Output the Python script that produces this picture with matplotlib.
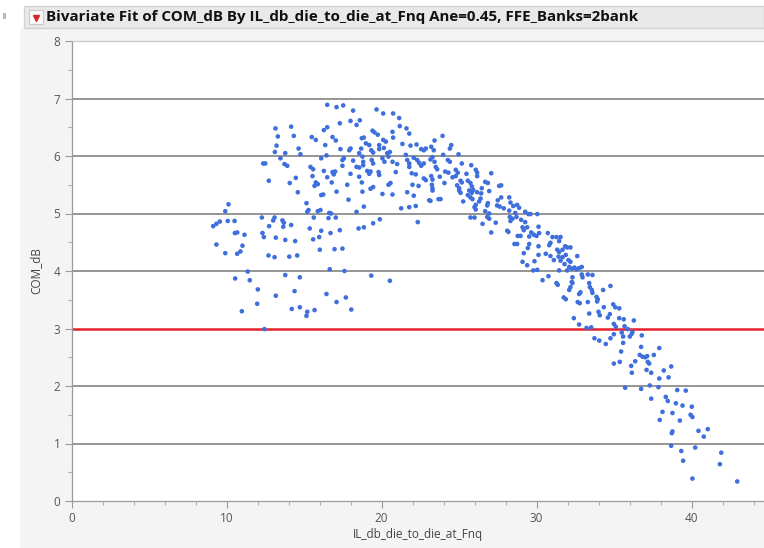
import matplotlib
matplotlib.use("Agg")
import matplotlib.pyplot as plt
from matplotlib.patches import Rectangle
from matplotlib.lines import Line2D
from matplotlib.ticker import MultipleLocator

title = "Bivariate Fit of COM_dB By IL_db_die_to_die_at_Fnq Ane=0.45, FFE_Banks=2bank"
x_label = "IL_db_die_to_die_at_Fnq"
y_label = "COM_dB"
x_ticks = [0, 10, 20, 30, 40]
y_ticks = [0, 1, 2, 3, 4, 5, 6, 7, 8]
grid_levels = [1, 2, 4, 5, 6, 7]
limit_line = 3

il_db = [
    # left cluster
    13.16, 14.17, 13.31, 14.34, 13.23, 13.12, 13.79, 14.65, 13.48, 12.37, 12.50, 13.74, 13.92,
    12.73, 14.08, 14.47, 14.60, 10.13, 9.92, 9.14, 9.35, 9.57, 10.08, 10.52, 12.28, 13.01,
    13.10, 13.61, 13.70, 14.17, 12.75, 13.66, 10.54, 10.69, 11.16, 12.32, 12.41, 13.18, 13.79,
    14.43, 9.35, 11.03, 9.92, 10.69, 10.90, 12.71, 13.10, 14.05, 14.56, 11.37, 10.56, 11.50,
    13.79, 14.73, 12.02, 14.39, 13.18, 11.98, 10.99, 14.21, 14.73, 12.45,
    # middle cluster
    16.50, 17.10, 17.53, 18.17, 19.68, 20.11, 20.75, 21.14, 18.00, 18.39, 18.60, 17.31, 16.50,
    16.28, 21.18, 21.61, 21.79, 20.71, 20.75, 19.42, 19.55, 19.76, 15.50, 15.76, 16.84, 17.05,
    18.73, 18.86, 20.11, 20.28, 16.37, 18.99, 19.21, 19.85, 20.15, 21.35, 21.87, 22.26, 22.56,
    22.73, 22.86, 17.35, 17.92, 18.00, 18.69, 18.56, 19.34, 19.46, 19.85, 20.37, 20.54, 20.45,
    14.77, 16.11, 16.45, 17.48, 17.57, 18.17, 18.77, 18.82, 19.37, 19.46, 20.06, 20.19, 20.71,
    21.57, 21.66, 21.79, 22.08, 22.30, 22.43, 22.56, 22.73, 15.42, 15.59, 16.28, 16.84, 16.92,
    17.01, 17.48, 18.00, 18.39, 18.56, 18.82, 19.08, 19.29, 19.21, 19.85, 19.81, 21.01, 20.92,
    21.79, 21.95, 22.21, 22.73, 22.86, 15.55, 16.50, 18.56, 15.76, 15.89, 15.68, 16.79, 17.79,
    18.73, 19.46, 19.29, 20.45, 20.58, 22.00, 22.39, 16.11, 16.24, 17.10, 18.77, 20.06, 20.71,
    21.66, 22.08, 23.08, 17.87, 15.16, 18.86, 21.27, 21.79, 22.21, 15.29, 15.21, 15.89, 16.06,
    16.63, 16.75, 18.39, 15.63, 16.58, 17.05, 19.89, 19.46, 22.34, 15.37, 16.11, 17.31, 16.71,
    18.52, 18.86, 15.59, 15.98, 16.02, 16.97, 17.48, 16.66, 17.61, 19.34, 20.54, 16.45, 17.10,
    17.70, 15.21, 15.68, 18.05, 15.16,
    # falling edge, upper part
    23.94, 23.42, 24.50, 24.41, 23.21, 23.37, 24.97, 23.98, 24.28, 24.41, 23.29, 23.16, 23.42,
    25.18, 25.79, 23.50, 23.59, 24.11, 24.32, 24.79, 24.92, 26.08, 26.17, 25.48, 27.08, 23.21,
    23.29, 23.76, 24.58, 24.79, 26.17, 25.10, 25.18, 25.57, 25.74, 26.69, 26.86, 24.06, 23.25,
    23.29, 24.88, 25.01, 25.83, 25.92, 27.59, 27.72, 26.47, 23.29, 25.01, 25.10, 25.66, 25.83,
    26.17, 26.43, 26.95, 23.68, 23.81, 23.16, 25.27, 25.57, 25.74, 25.87, 26.39, 26.30, 26.86,
    26.82, 27.50, 27.72, 28.24, 26.08, 26.00, 26.08, 27.46, 27.63, 27.89, 28.32, 28.50, 28.75,
    28.88, 26.69, 26.95, 28.24, 28.63, 29.27, 29.48, 29.61, 30.05, 25.74, 26.00, 26.82, 26.95,
    28.28, 28.45, 28.32, 28.71, 29.01, 29.27, 26.52, 27.37, 28.11, 28.19, 29.10, 29.18, 29.40,
    29.66, 29.83, 30.13, 30.17, 27.08, 28.79, 28.97, 29.53, 30.00, 28.58, 28.75, 29.53, 29.44,
    30.13, 29.18, 30.13, 29.10, 29.40, 29.87, 29.79, 30.05,
    # falling edge, middle part
    30.60, 30.73, 31.03, 31.29, 31.55, 30.90, 30.82, 31.46, 31.85, 31.98, 32.19, 31.34, 31.46,
    31.68, 30.90, 32.63, 31.42, 31.68, 31.89, 32.06, 32.19, 31.55, 31.12, 31.81, 31.46, 32.11,
    32.28, 32.45, 32.58, 32.75, 32.92, 31.98, 30.77, 30.39, 31.29, 31.37, 32.32, 32.28, 32.32,
    32.92, 32.97, 33.31, 33.61, 32.19, 32.11, 33.40, 33.44, 32.84, 32.75, 33.57, 33.61, 34.30,
    34.77, 31.76, 31.89, 32.66, 32.79, 33.31, 33.87, 33.95, 33.91, 34.95, 35.08, 35.34, 34.34,
    33.40, 34.00, 34.08, 34.73, 34.60, 35.34, 35.63, 32.41, 32.75, 33.23, 33.53, 34.99, 35.12,
    35.68, 35.89, 35.50, 34.99, 35.59, 33.74, 34.05, 34.77, 34.47, 35.59, 35.46, 34.99, 35.37,
    # tail
    36.28, 36.19, 36.15, 36.02, 36.79, 36.75, 36.66, 36.84, 37.01, 37.14, 37.57, 37.92, 37.18,
    37.27, 36.37, 36.11, 36.15, 37.10, 37.40, 38.21, 38.69, 37.92, 38.52, 37.31, 37.87, 36.75,
    35.72, 39.08, 39.63, 37.40, 38.34, 38.47, 38.99, 39.42, 40.02, 38.13, 38.77, 39.94, 40.06,
    37.95, 39.25, 38.77, 38.73, 40.45, 41.05, 40.79, 38.69, 40.24, 39.34, 41.92, 39.46, 41.83,
    40.06, 42.95,
]

com_db = [
    # left cluster
    6.48, 6.51, 6.34, 6.35, 6.18, 6.07, 6.05, 6.13, 5.96, 5.87, 5.87, 5.86, 5.83,
    5.57, 5.53, 5.62, 5.37, 5.16, 5.04, 4.78, 4.82, 4.86, 4.87, 4.87, 4.93, 4.88,
    4.93, 4.88, 4.84, 4.80, 4.78, 4.77, 4.66, 4.67, 4.63, 4.66, 4.59, 4.58, 4.54,
    4.52, 4.46, 4.44, 4.31, 4.30, 4.34, 4.27, 4.24, 4.25, 4.27, 3.99, 3.87, 3.84,
    3.93, 3.89, 3.68, 3.65, 3.57, 3.43, 3.30, 3.34, 3.37, 2.99,
    # middle cluster
    6.89, 6.85, 6.88, 6.79, 6.81, 6.74, 6.74, 6.66, 6.61, 6.54, 6.62, 6.57, 6.50,
    6.45, 6.52, 6.48, 6.39, 6.42, 6.32, 6.44, 6.41, 6.37, 6.33, 6.28, 6.33, 6.27,
    6.31, 6.32, 6.28, 6.25, 6.19, 6.22, 6.19, 6.19, 6.14, 6.21, 6.18, 6.20, 6.12,
    6.10, 6.13, 6.12, 6.10, 6.13, 6.13, 6.05, 6.10, 6.06, 6.12, 6.05, 6.07, 5.99,
    6.03, 5.96, 6.01, 5.93, 5.96, 5.92, 5.99, 5.90, 5.93, 5.87, 5.96, 5.90, 5.90,
    6.02, 5.93, 5.87, 5.97, 5.93, 5.88, 5.83, 5.87, 5.81, 5.77, 5.74, 5.72, 5.68,
    5.73, 5.83, 5.69, 5.81, 5.80, 5.84, 5.74, 5.73, 5.69, 5.67, 5.72, 5.86, 5.72,
    5.81, 5.70, 5.68, 5.61, 5.58, 5.65, 5.63, 5.64, 5.54, 5.51, 5.48, 5.54, 5.50,
    5.54, 5.46, 5.43, 5.50, 5.53, 5.50, 5.48, 5.32, 5.33, 5.38, 5.38, 5.34, 5.33,
    5.37, 5.31, 5.23, 5.24, 5.18, 5.12, 5.09, 5.11, 5.13, 5.06, 5.03, 5.04, 5.06,
    5.01, 5.00, 5.03, 4.93, 4.92, 4.93, 4.90, 4.83, 4.85, 4.74, 4.70, 4.71, 4.66,
    4.74, 4.76, 4.55, 4.59, 4.37, 4.38, 4.39, 4.03, 4.00, 3.92, 3.83, 3.60, 3.46,
    3.54, 3.29, 3.32, 3.33, 3.22,
    # falling edge, upper part
    6.35, 6.27, 6.19, 6.13, 6.16, 6.10, 6.03, 6.02, 5.93, 5.90, 5.98, 5.94, 5.90,
    5.87, 5.84, 5.81, 5.77, 5.73, 5.71, 5.76, 5.71, 5.76, 5.71, 5.69, 5.70, 5.65,
    5.59, 5.64, 5.63, 5.65, 5.65, 5.57, 5.54, 5.57, 5.53, 5.55, 5.53, 5.53, 5.50,
    5.44, 5.49, 5.44, 5.47, 5.41, 5.48, 5.49, 5.44, 5.40, 5.40, 5.36, 5.40, 5.36,
    5.37, 5.35, 5.39, 5.25, 5.25, 5.22, 5.21, 5.32, 5.28, 5.25, 5.26, 5.21, 5.18,
    5.14, 5.23, 5.28, 5.28, 5.15, 5.11, 5.07, 5.14, 5.12, 5.09, 5.19, 5.13, 5.15,
    5.10, 5.04, 5.00, 5.05, 5.01, 5.03, 4.99, 4.99, 4.99, 4.93, 4.93, 4.94, 4.91,
    4.94, 4.91, 4.87, 4.94, 4.89, 4.85, 4.82, 4.84, 4.70, 4.68, 4.76, 4.71, 4.76,
    4.67, 4.63, 4.77, 4.66, 4.67, 4.61, 4.61, 4.60, 4.61, 4.47, 4.47, 4.47, 4.40,
    4.43, 4.31, 4.28, 4.16, 4.10, 4.17, 4.01, 4.02,
    # falling edge, middle part
    4.30, 4.66, 4.59, 4.59, 4.59, 4.49, 4.45, 4.52, 4.43, 4.41, 4.41, 4.37, 4.33,
    4.37, 4.26, 4.26, 4.25, 4.24, 4.28, 4.19, 4.16, 4.18, 4.19, 4.12, 4.01, 4.07,
    4.04, 4.06, 4.03, 4.05, 4.07, 4.01, 3.91, 3.84, 3.79, 3.76, 3.89, 3.81, 3.79,
    3.94, 3.89, 3.94, 3.93, 3.72, 3.67, 3.79, 3.72, 3.63, 3.60, 3.67, 3.62, 3.67,
    3.74, 3.54, 3.51, 3.46, 3.44, 3.46, 3.55, 3.51, 3.47, 3.42, 3.37, 3.35, 3.37,
    3.26, 3.29, 3.23, 3.25, 3.19, 3.18, 3.16, 3.18, 3.07, 3.01, 3.02, 3.08, 3.03,
    3.04, 2.99, 2.93, 2.90, 2.86, 2.83, 2.79, 2.83, 2.73, 2.75, 2.60, 2.39, 2.42,
    # tail
    3.14, 2.94, 2.91, 2.86, 2.88, 2.68, 2.54, 2.51, 2.50, 2.52, 2.54, 2.66, 2.42,
    2.39, 2.43, 2.35, 2.23, 2.28, 2.23, 2.27, 2.34, 2.13, 2.15, 2.01, 1.98, 1.95,
    1.97, 1.93, 1.92, 1.78, 1.81, 1.74, 1.70, 1.66, 1.64, 1.55, 1.53, 1.50, 1.46,
    1.41, 1.40, 1.21, 1.18, 1.22, 1.25, 1.12, 0.96, 0.93, 0.87, 0.84, 0.70, 0.64,
    0.39, 0.34,
]

n = min(len(il_db), len(com_db))
il_db = il_db[:n]
com_db = com_db[:n]

FONT = ["Open Sans", "DejaVu Sans"]
plt.rcParams["font.family"] = FONT

W, H = 764, 548
fig = plt.figure(figsize=(W / 100, H / 100), dpi=100)
fig.patch.set_facecolor("white")

def fx(px):
    return px / W

def fy(py):
    return 1 - py / H

# gray report panel
fig.patches.append(Rectangle((fx(20), 0), 1 - fx(20), fy(28), transform=fig.transFigure,
                             facecolor="#f4f4f4", edgecolor="none", zorder=-10))
# title bar
fig.patches.append(Rectangle((fx(24), fy(28)), 1 - fx(24), (28 - 6) / H, transform=fig.transFigure,
                             facecolor="#e9e9e9", edgecolor="#d2d2d2", linewidth=1.0, zorder=-9))
# small outline handle at far left
fig.patches.append(Rectangle((fx(3), fy(19)), 3 / W, 6 / H, transform=fig.transFigure,
                             facecolor="#b8b8b8", edgecolor="none", zorder=-9))
# disclosure icon
fig.patches.append(Rectangle((fx(29), fy(24)), 14 / W, 14 / H, transform=fig.transFigure,
                             facecolor="#fafafa", edgecolor="#c8c8c8", linewidth=0.8, zorder=-8))
fig.lines.append(Line2D([fx(36)], [fy(17.5)], transform=fig.transFigure, marker="v",
                        markersize=5, color="#d9262e", linestyle="none", zorder=-7))

t = fig.text(fx(46), fy(17), title, fontsize=11, fontweight="bold", color="#111111",
             va="center", ha="left", family=FONT)
fig.canvas.draw()
bb = t.get_window_extent()
target = 638 - 46
t.set_fontsize(11 * target / bb.width)

ax = fig.add_axes([fx(71.5), fy(501), 1 - fx(71.5), (501 - 41) / H])
ax.set_zorder(5)
ax.set_facecolor("white")
ax.set_xlim(0, (W - 71.5) / 15.5)
ax.set_ylim(0, 8)

for g in grid_levels:
    ax.axhline(g, color="#8c8c8c", linewidth=1.3, zorder=1)
ax.axhline(limit_line, color="#e8202e", linewidth=1.8, zorder=1)

ax.scatter(il_db, com_db, s=11, color="#3f6fdc", edgecolors="none", zorder=3)

ax.set_xticks(x_ticks)
ax.set_yticks(y_ticks)
ax.xaxis.set_minor_locator(MultipleLocator(2))
ax.yaxis.set_minor_locator(MultipleLocator(0.5))
ax.tick_params(axis="both", which="major", length=5, width=0.8, color="#9a9a9a",
               labelsize=8.5, labelcolor="#555555", pad=3)
ax.tick_params(axis="both", which="minor", length=3, width=0.8, color="#b0b0b0")

ax.spines["right"].set_visible(False)
ax.spines["left"].set_color("#9a9a9a")
ax.spines["bottom"].set_color("#9a9a9a")
ax.spines["top"].set_color("#c8c8c8")
for s in ["left", "bottom", "top"]:
    ax.spines[s].set_linewidth(0.9)

ax.set_xlabel(x_label, fontsize=8.5, color="#444444", labelpad=2)
ax.set_ylabel(y_label, fontsize=8.5, color="#444444", labelpad=8)

fig.savefig("out.png", dpi=100, facecolor=fig.get_facecolor())
